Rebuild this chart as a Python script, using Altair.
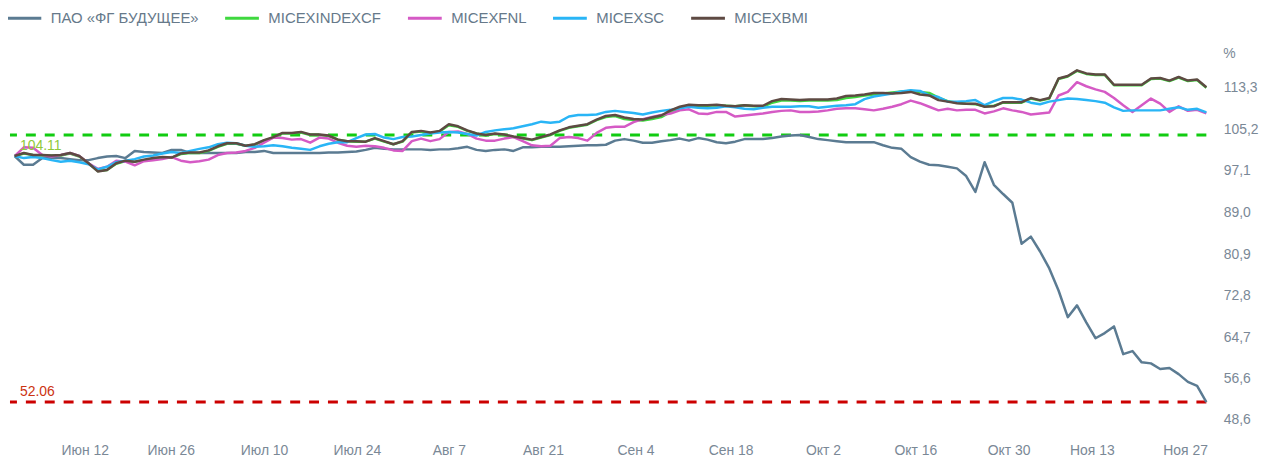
import altair as alt
import pandas as pd

series_names = ["ПАО «ФГ БУДУЩЕЕ»", "MICEXINDEXCF", "MICEXFNL", "MICEXSC", "MICEXBMI"]
series_colors = ["#5b7b92", "#3fd83f", "#d55ac5", "#29b5f6", "#5e4a43"]

pao = [100.0, 98.3, 98.3, 99.6, 99.6, 99.6, 99.4, 99.2, 99.2, 99.6,
       99.9, 100.0, 99.6, 101.0, 100.8, 100.7, 100.6, 101.2, 101.2, 100.6,
       100.6, 100.6, 100.6, 100.6, 100.6, 100.8, 100.8, 101.0, 100.6, 100.6,
       100.6, 100.6, 100.6, 100.6, 100.7, 100.7, 100.8, 100.9, 101.2, 101.6,
       101.4, 101.3, 101.3, 101.3, 101.3, 101.2, 101.3, 101.3, 101.5, 101.8,
       101.2, 101.0, 101.2, 101.3, 101.0, 101.7, 101.7, 101.8, 101.8, 101.8,
       101.9, 102.0, 102.1, 102.1, 102.2, 103.0, 103.3, 103.0, 102.6, 102.6,
       102.9, 103.1, 103.4, 103.0, 103.5, 103.2, 102.7, 102.5, 102.8, 103.3,
       103.3, 103.3, 103.5, 103.8, 104.0, 104.11, 103.7, 103.3, 103.1, 102.9,
       102.7, 102.7, 102.7, 102.7, 102.1, 101.6, 101.4, 99.8, 98.9, 98.3,
       98.2, 97.9, 97.6, 96.1, 93.0, 98.8, 94.4, 92.6, 90.9, 82.9,
       84.3, 81.4, 78.1, 73.8, 68.6, 70.9, 67.6, 64.5, 65.5, 66.8,
       61.4, 62.0, 59.8, 59.6, 58.5, 58.7, 57.5, 56.0, 55.2, 52.06]

cf = [100.0, 100.5, 100.2, 100.1, 100.1, 100.1, 100.5, 99.9, 98.6, 97.1,
      97.3, 98.5, 99.0, 98.9, 99.2, 99.5, 99.7, 99.7, 100.4, 100.6,
      100.6, 101.0, 101.8, 102.4, 102.4, 102.0, 102.2, 103.0, 103.6, 104.4,
      104.4, 104.6, 104.1, 104.1, 103.9, 103.2, 102.9, 102.8, 102.8, 103.4,
      102.8, 102.3, 102.8, 104.6, 104.8, 104.5, 104.8, 106.0, 105.7, 104.9,
      104.4, 104.0, 104.3, 104.1, 103.7, 103.4, 103.1, 103.6, 104.1, 104.9,
      105.5, 105.8, 106.1, 107.0, 107.6, 107.8, 107.2, 107.0, 106.9, 107.2,
      107.6, 108.6, 109.3, 109.8, 109.8, 109.8, 109.9, 109.8, 109.7, 109.9,
      109.7, 109.6, 110.4, 110.8, 110.8, 110.7, 110.8, 110.8, 110.8, 110.9,
      111.3, 111.5, 111.8, 112.0, 112.2, 112.4, 112.6, 112.7, 112.5, 112.3,
      111.4, 110.7, 110.4, 110.2, 110.1, 109.7, 109.8, 110.4, 110.4, 110.4,
      111.2, 110.8, 111.2, 115.0, 115.5, 116.6, 116.0, 115.8, 115.8, 113.8,
      113.8, 113.8, 113.8, 115.0, 115.1, 114.6, 115.3, 114.6, 114.8, 113.3]

fnl = [100.0, 101.7, 101.6, 100.2, 99.9, 100.2, 100.6, 100.0, 98.6, 97.5,
       97.9, 99.1, 98.9, 98.2, 99.0, 99.2, 99.4, 99.8, 99.1, 98.8,
       99.0, 99.3, 100.2, 100.6, 100.7, 101.0, 101.6, 102.6, 103.6, 103.5,
       103.2, 103.3, 102.6, 103.6, 103.4, 102.6, 102.0, 101.8, 102.0, 101.9,
       101.6, 101.1, 101.0, 102.9, 103.4, 102.9, 103.3, 104.7, 104.8, 104.3,
       103.4, 103.0, 103.0, 103.4, 103.7, 102.9, 102.1, 101.9, 102.0, 103.5,
       103.7, 103.5, 103.0, 104.5, 105.5, 105.7, 105.7, 106.6, 107.2, 107.6,
       108.0, 108.3, 108.9, 109.1, 108.3, 108.2, 108.6, 108.6, 107.7, 107.9,
       108.1, 108.3, 108.6, 108.8, 108.9, 108.6, 108.6, 108.7, 108.9, 109.2,
       109.3, 109.3, 109.1, 108.9, 109.2, 109.6, 110.1, 110.8, 110.3, 109.6,
       108.9, 109.2, 108.9, 109.0, 109.0, 108.3, 108.7, 109.3, 108.9, 108.6,
       108.1, 108.3, 108.5, 111.8, 112.5, 114.4, 113.6, 113.0, 112.5, 111.3,
       109.9, 108.6, 109.9, 111.2, 110.2, 108.6, 109.7, 108.8, 109.0, 108.3]

sc = [100.0, 99.6, 99.8, 99.6, 99.2, 98.9, 99.1, 98.8, 98.4, 97.4,
      97.9, 98.8, 99.1, 99.4, 99.9, 100.1, 100.5, 100.8, 100.6, 101.0,
      101.4, 101.7, 102.3, 102.6, 102.5, 102.0, 101.8, 101.9, 102.1, 101.9,
      101.6, 101.4, 101.2, 101.9, 102.4, 102.7, 102.7, 103.5, 104.2, 104.3,
      103.6, 103.3, 103.7, 103.8, 104.1, 104.4, 104.6, 104.7, 104.6, 104.3,
      104.0, 104.7, 105.0, 105.2, 105.4, 105.8, 106.2, 106.7, 106.5, 106.7,
      107.7, 108.0, 108.0, 108.1, 108.6, 108.8, 108.6, 108.4, 108.1, 108.5,
      108.8, 109.0, 109.3, 109.6, 109.4, 109.3, 109.4, 109.7, 109.5, 109.2,
      109.1, 109.4, 109.6, 109.6, 109.6, 109.7, 109.7, 109.4, 109.6, 109.8,
      109.9, 110.1, 111.1, 111.6, 111.9, 112.2, 112.6, 112.8, 112.7, 111.8,
      111.5, 110.6, 110.6, 110.7, 110.9, 109.9, 110.7, 111.3, 111.3, 111.0,
      110.4, 110.1, 110.6, 110.9, 111.2, 111.1, 110.9, 110.7, 110.4, 109.5,
      108.8, 108.9, 108.9, 108.9, 108.9, 109.2, 109.5, 109.0, 109.2, 108.5]

bmi = [100.0, 100.6, 100.2, 100.2, 100.1, 100.2, 100.6, 100.0, 98.6, 97.0,
       97.3, 98.6, 99.1, 98.9, 99.3, 99.6, 99.8, 99.7, 100.5, 100.7,
       100.7, 101.1, 101.9, 102.5, 102.5, 102.0, 102.3, 103.1, 103.7, 104.5,
       104.5, 104.7, 104.2, 104.2, 104.0, 103.2, 102.9, 102.9, 102.8, 103.5,
       102.9, 102.3, 102.9, 104.7, 104.9, 104.6, 104.9, 106.2, 105.8, 105.0,
       104.4, 104.1, 104.4, 104.2, 103.8, 103.5, 103.2, 103.7, 104.2, 105.0,
       105.6, 105.9, 106.2, 107.1, 107.8, 108.0, 107.5, 107.2, 107.1, 107.5,
       107.9, 108.9, 109.6, 110.0, 109.9, 109.9, 110.0, 109.8, 109.7, 109.9,
       109.8, 109.8, 110.7, 111.1, 111.0, 110.9, 111.0, 111.0, 111.0, 111.2,
       111.7, 111.8, 112.0, 112.3, 112.3, 112.2, 112.3, 112.5, 112.0, 111.8,
       110.9, 110.6, 110.3, 110.2, 110.2, 109.6, 109.7, 110.5, 110.5, 110.5,
       111.3, 110.9, 111.3, 115.1, 115.6, 116.7, 116.1, 115.9, 115.9, 113.9,
       113.9, 113.9, 113.9, 115.1, 115.2, 114.7, 115.4, 114.7, 114.9, 113.4]

tick_pos = [7.6, 16.9, 27.0, 37.05, 47.0, 57.2, 67.2, 77.5, 87.5, 97.5, 107.6, 116.6, 126.7]
tick_labels = ["Июн 12", "Июн 26", "Июл 10", "Июл 24", "Авг 7", "Авг 21", "Сен 4",
               "Сен 18", "Окт 2", "Окт 16", "Окт 30", "Ноя 13", "Ноя 27"]
y_ticks = [48.6, 56.6, 64.7, 72.8, 80.9, 89.0, 97.1, 105.2, 113.3]

ref_levels = [104.11, 52.06]
ref_labels = ["104.11", "52.06"]
ref_line_colors = ["#11cc11", "#cc0000"]
ref_text_colors = ["#8fc93a", "#cc3311"]
ref_text_dy = [11, -10]

FONT = "Liberation Sans"
AXIS_COLOR = "#7a8896"
W, H = 1204, 376

rows = []
for name, vals in zip(series_names, [pao, cf, fnl, sc, bmi]):
    for i, v in enumerate(vals):
        rows.append({"series": name, "idx": i, "value": v})
df = pd.DataFrame(rows)

ref_df = pd.DataFrame({"level": ref_levels, "label": ref_labels})

x_labels_js = "[" + ",".join("'" + t + "'" for t in tick_labels) + "]"
x_pos_js = "[" + ",".join(str(p) for p in tick_pos) + "]"

x_enc = alt.X("idx:Q",
              scale=alt.Scale(domain=[-0.5, 129], nice=False, zero=False),
              axis=alt.Axis(values=tick_pos,
                            labelExpr=f"{x_labels_js}[indexof({x_pos_js}, datum.value)]",
                            domain=False, ticks=False, grid=False, title=None,
                            labelPadding=24, labelFontSize=14, labelColor=AXIS_COLOR,
                            labelFont=FONT, labelFlush=False, labelOverlap=False))
y_enc = alt.Y("value:Q",
              scale=alt.Scale(domain=[48.6, 121.4], nice=False, zero=False),
              axis=alt.Axis(orient="right", values=y_ticks,
                            labelExpr="replace(format(datum.value, '.1f'), '.', ',')",
                            domain=False, ticks=False, grid=False, title=None,
                            labelPadding=17, labelFontSize=14, labelColor=AXIS_COLOR,
                            labelFont=FONT, labelFlush=False, labelOverlap=False))
color_enc = alt.Color("series:N",
                      scale=alt.Scale(domain=series_names, range=series_colors),
                      sort=series_names,
                      legend=alt.Legend(orient="none", legendX=-4, legendY=-47,
                                        direction="horizontal", title=None,
                                        symbolType="stroke", symbolSize=1156,
                                        symbolStrokeWidth=3, labelFontSize=15,
                                        labelColor="#66798a", labelFont=FONT,
                                        labelOffset=8, columnPadding=20))

layers = []
for name in series_names:
    layers.append(
        alt.Chart(df).transform_filter(alt.datum.series == name)
        .mark_line(strokeWidth=2.5, strokeJoin="round")
        .encode(x=x_enc, y=y_enc, color=color_enc)
    )

ref_layers = []
for lvl, lab, lc, tc, dy in zip(ref_levels, ref_labels, ref_line_colors,
                                ref_text_colors, ref_text_dy):
    sub = alt.Chart(ref_df).transform_filter(alt.datum.label == lab)
    ref_layers.append(sub.mark_rule(strokeDash=[10, 9], strokeWidth=3, color=lc)
                      .encode(y=alt.Y("level:Q")))
    ref_layers.append(sub.mark_text(align="left", baseline="middle", dy=dy,
                                    fontSize=14, font=FONT, color=tc)
                      .encode(x=alt.value(10), y=alt.Y("level:Q"), text="label:N"))

pct = alt.Chart(pd.DataFrame({"t": ["%"]})).mark_text(
    align="left", baseline="middle", fontSize=14, font=FONT, color=AXIS_COLOR).encode(
    x=alt.value(W + 17), y=alt.value(8), text="t:N")

chart = alt.layer(ref_layers[0], ref_layers[2], *layers, ref_layers[1], ref_layers[3], pct).properties(
    width=W, height=H,
    autosize=alt.AutoSizeParams(type="none"),
    padding={"left": 2, "top": 37, "right": 56, "bottom": 45},
    background="white",
).configure_view(stroke=None)

chart.save("out.html", embed_options={"renderer": "svg", "actions": False})
